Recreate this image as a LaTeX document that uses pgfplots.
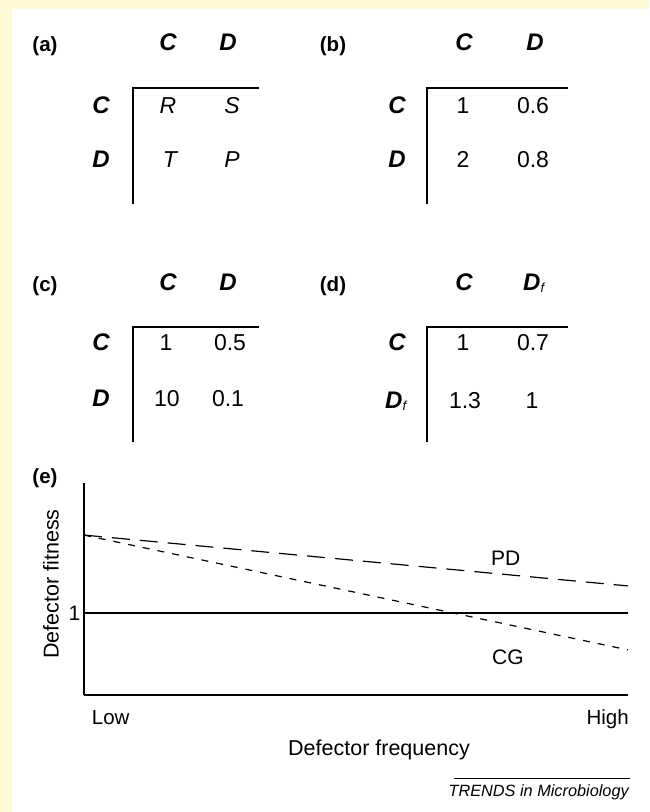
\documentclass[border=0pt]{standalone}
\usepackage{pgfplots}
\pgfplotsset{compat=1.18}
\usepackage{fontspec}
\setmainfont{Liberation Sans}
\definecolor{bgyellow}{RGB}{255,249,214}
\newcommand{\fs}[1]{\fontsize{#1}{#1}\selectfont}
\newcommand{\bi}[1]{{\fs{24}\bfseries\itshape #1}}
\newcommand{\Df}{{\fs{24}\bfseries\itshape D}\raisebox{-0.38ex}{\fs{13}\itshape f}}
\newcommand{\en}[1]{{\fs{23}#1}}
\begin{document}
\begin{tikzpicture}[x=1pt,y=-1pt,every node/.style={inner sep=0pt}]
\fill[white] (0,0) rectangle (649,812);
\fill[bgyellow] (0,0) rectangle (12,812);
\fill[bgyellow] (0,0) rectangle (649,9);
\coordinate (eorigin) at (84,695);
% ---------- (a)
\node[anchor=base] at (45,51) {\fs{20.5}\bfseries (a)};
\node[anchor=base] at (168,50) {\bi{C}};
\node[anchor=base] at (228,50) {\bi{D}};
\node[anchor=base] at (101,113) {\bi{C}};
\node[anchor=base] at (101,167) {\bi{D}};
\draw[line width=2pt] (133,204) -- (133,88) -- (259,88);
\node[anchor=base] at (168,113) {\en{\itshape R}};
\node[anchor=base] at (232,113) {\en{\itshape S}};
\node[anchor=base] at (170,167) {\en{\itshape T}};
\node[anchor=base] at (232,167) {\en{\itshape P}};
% ---------- (b)
\node[anchor=base] at (333,51) {\fs{20.5}\bfseries (b)};
\node[anchor=base] at (464,50) {\bi{C}};
\node[anchor=base] at (535,50) {\bi{D}};
\node[anchor=base] at (397,113) {\bi{C}};
\node[anchor=base] at (397,167) {\bi{D}};
\draw[line width=2pt] (427,204) -- (427,88) -- (568,88);
\node[anchor=base] at (463,113) {\en{1}};
\node[anchor=base] at (533,113) {\en{0.6}};
\node[anchor=base] at (463,167) {\en{2}};
\node[anchor=base] at (533,167) {\en{0.8}};
% ---------- (c)
\node[anchor=base] at (45,291) {\fs{20.5}\bfseries (c)};
\node[anchor=base] at (168,290) {\bi{C}};
\node[anchor=base] at (228,290) {\bi{D}};
\node[anchor=base] at (101,350) {\bi{C}};
\node[anchor=base] at (101,406) {\bi{D}};
\draw[line width=2pt] (133,442) -- (133,327) -- (259,327);
\node[anchor=base] at (166,350) {\en{1}};
\node[anchor=base] at (230,350) {\en{0.5}};
\node[anchor=base] at (167,406) {\en{10}};
\node[anchor=base] at (228,406) {\en{0.1}};
% ---------- (d)
\node[anchor=base] at (333,291) {\fs{20.5}\bfseries (d)};
\node[anchor=base] at (464,290) {\bi{C}};
\node[anchor=base west] at (523,290) {\Df};
\node[anchor=base] at (397,350) {\bi{C}};
\node[anchor=base west] at (385,408) {\Df};
\draw[line width=2pt] (427,442) -- (427,327) -- (568,327);
\node[anchor=base] at (463,350) {\en{1}};
\node[anchor=base] at (533,350) {\en{0.7}};
\node[anchor=base] at (465,408) {\en{1.3}};
\node[anchor=base] at (532,408) {\en{1}};
% ---------- (e)
\node[anchor=base] at (45,483) {\fs{20.5}\bfseries (e)};
\begin{axis}[at={(eorigin)}, anchor=south west, scale only axis,
  width=544pt, height=212pt,
  xmin=0, xmax=1, ymin=0, ymax=2.585,
  axis x line=bottom, axis y line=left,
  axis line style={-, line width=1.2pt},
  xtick=\empty, ytick={1}, yticklabels={1},
  major tick length=0pt,
  yticklabel style={font=\fs{21}, inner sep=3.5pt},
  clip=false]
\addplot[black, line width=1.2pt] coordinates {(0,1) (1,1)};
\addplot[black, line width=1.2pt, dash pattern=on 18pt off 10pt] coordinates {(0,1.95) (1,1.33)};
\addplot[black, line width=1.2pt, dash pattern=on 7pt off 8pt] coordinates {(0,1.95) (1,0.55)};
\node at (axis cs:0.770,1.67) {\fs{21} PD};
\node at (axis cs:0.774,0.463) {\fs{21} CG};
\end{axis}
\node[anchor=base west] at (86,724) {\fs{20.5} Low};
\node[anchor=base east] at (629,724) {\fs{20.5} High};
\node[anchor=base] at (376,755) {\fs{21.5} Defector frequency};
\node[rotate=90] at (51,587) {\fs{21.5} Defector fitness};
\draw[line width=0.8pt] (454,778) -- (630,778);
\node[anchor=base east] at (629,796) {\fs{16.3}\itshape TRENDS in Microbiology};
\end{tikzpicture}
\end{document}
